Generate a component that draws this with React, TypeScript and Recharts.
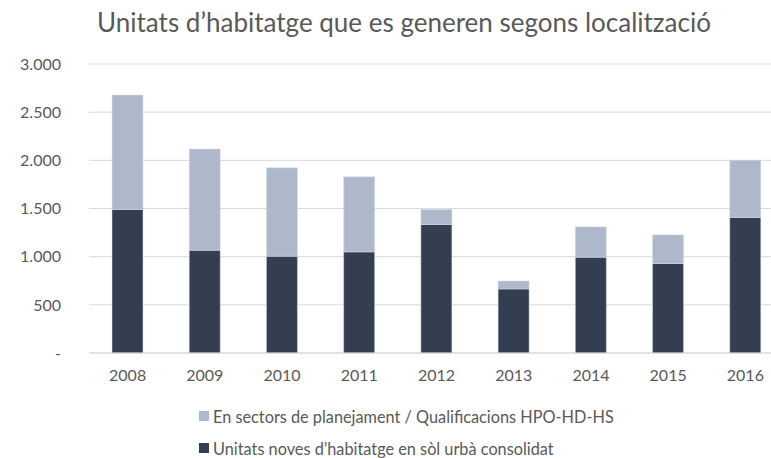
import { BarChart, Bar, XAxis, YAxis, CartesianGrid, Legend } from "recharts";

const years = ["2008", "2009", "2010", "2011", "2012", "2013", "2014", "2015", "2016"];
const consolidat = [1490, 1067, 1005, 1050, 1334, 665, 995, 929, 1407];
const sectors = [1188, 1050, 917, 779, 156, 83, 314, 297, 595];
const yTicks = [0, 500, 1000, 1500, 2000, 2500, 3000];

const DARK = "#333f50";
const LIGHT = "#adb9ca";
const TEXT = "#595959";
const FONT = "Lato, 'Open Sans', sans-serif";

const data = years.map((year, i) => ({
  year,
  consolidat: consolidat[i],
  sectors: sectors[i],
}));

const formatTick = (v: number) => (v === 0 ? "-" : v.toString().replace(/\B(?=(\d{3})+(?!\d))/g, "."));

function LegendBox() {
  const rows = [
    { color: LIGHT, label: "En sectors de planejament / Qualificacions HPO-HD-HS" },
    { color: DARK, label: "Unitats noves d\u2019habitatge en sòl urbà consolidat" },
  ];
  return (
    <div style={{ fontFamily: FONT, fontSize: 16.3, color: TEXT }}>
      {rows.map((r) => (
        <div key={r.label} style={{ display: "flex", alignItems: "center", height: 32 }}>
          <span style={{ width: 10, height: 10, background: r.color, marginRight: 4, display: "inline-block" }} />
          <span>{r.label}</span>
        </div>
      ))}
    </div>
  );
}

export default function App() {
  return (
    <div
      style={{
        position: "fixed",
        left: 0,
        top: 0,
        width: 771,
        height: 458,
        overflow: "hidden",
        background: "#fff",
        fontFamily: FONT,
      }}
    >
      <div
        style={{
          position: "absolute",
          top: 6,
          left: 0,
          width: 808,
          textAlign: "center",
          fontSize: 26,
          color: TEXT,
        }}
      >
        Unitats d{"\u2019"}habitatge que es generen segons localització
      </div>
      <BarChart
        width={790}
        height={458}
        data={data}
        margin={{ top: 64, right: 6, bottom: 0, left: 0 }}
        barSize={31}
      >
        <CartesianGrid vertical={false} stroke="#d9d9d9" />
        <XAxis
          dataKey="year"
          height={35}
          tickLine={false}
          axisLine={{ stroke: "#d9d9d9" }}
          tickMargin={11}
          tick={{ fontSize: 16, fill: TEXT, fontFamily: FONT }}
        />
        <YAxis
          width={89}
          domain={[0, 3000]}
          ticks={yTicks}
          tickFormatter={formatTick}
          axisLine={false}
          tickLine={false}
          tickMargin={22}
          tick={{ fontSize: 16, fill: TEXT, fontFamily: FONT }}
        />
        <Legend
          verticalAlign="bottom"
          height={70}
          content={<LegendBox />}
          wrapperStyle={{ left: 199, width: "auto", bottom: -12 }}
        />
        <Bar dataKey="consolidat" stackId="a" fill={DARK} stroke="#d6dce5" strokeWidth={0.5} isAnimationActive={false} />
        <Bar dataKey="sectors" stackId="a" fill={LIGHT} stroke="#d6dce5" strokeWidth={0.5} isAnimationActive={false} />
      </BarChart>
    </div>
  );
}
